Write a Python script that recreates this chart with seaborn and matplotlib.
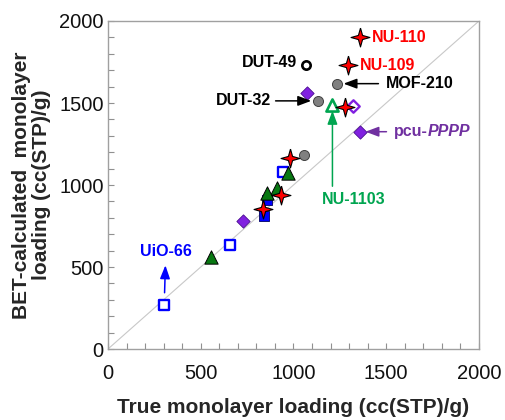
import numpy as np
import pandas as pd
import matplotlib
matplotlib.use("Agg")
import matplotlib.pyplot as plt
import seaborn as sns

# ---------------- data ----------------
star_x = [1358, 1295, 1278, 980, 934, 836]
star_y = [1900, 1730, 1478, 1162, 940, 852]

grey_x = [1236, 1133, 1057]
grey_y = [1618, 1513, 1181]

dut49_x = [1066]
dut49_y = [1730]

purple_x = [1074, 1358, 729]
purple_y = [1562, 1325, 781]

purple_open_x = [1319]
purple_open_y = [1483]

green_x = [968, 909, 857, 555]
green_y = [1073, 982, 954, 559]

green_open_x = [1210]
green_open_y = [1488]

blue_open_x = [946, 658, 303]
blue_open_y = [1077, 637, 267]

blue_x = [858, 843]
blue_y = [908, 811]

ticks = [0, 500, 1000, 1500, 2000]

# ---------------- style ----------------
sns.set_style("ticks")
plt.rcParams['font.family'] = ['Liberation Sans', 'DejaVu Sans']

fig = plt.figure(figsize=(5.06, 4.2), dpi=100)
ax = fig.add_axes([0.2134, 0.169, 0.7332, 0.781])

# diagonal y = x
sns.lineplot(x=[0, 2000], y=[0, 2000], color='#C8C8C8', lw=0.8, ax=ax, zorder=1)

# 4-pointed star marker
r_in = 0.31
angs = np.deg2rad(np.arange(0, 360, 45) + 90)
star_verts = [(np.cos(a) * (1 if i % 2 == 0 else r_in), np.sin(a) * (1 if i % 2 == 0 else r_in))
              for i, a in enumerate(angs)]
star_verts.append(star_verts[0])


def sc(xs, ys, **kw):
    df = pd.DataFrame({"x": xs, "y": ys})
    sns.scatterplot(data=df, x="x", y="y", ax=ax, legend=False, **kw)


BLUE = '#0000FF'
PURPLE = '#8020E0'
GREEN = '#087812'
GREEN_T = '#00A550'

sc(blue_open_x, blue_open_y, marker='s', s=50, color='white', edgecolor=BLUE, linewidth=1.7, zorder=3)
sc(blue_x, blue_y, marker='s', s=54, color=BLUE, edgecolor='#000060', linewidth=0.6, zorder=3)
sc(grey_x, grey_y, marker='o', s=52, color='#808080', edgecolor='#404040', linewidth=0.7, zorder=3)
sc(dut49_x, dut49_y, marker='o', s=36, color='white', edgecolor='black', linewidth=1.9, zorder=3)
sc(purple_x, purple_y, marker='D', s=46, color=PURPLE, edgecolor='#4A0E90', linewidth=0.6, zorder=3)
sc(purple_open_x, purple_open_y, marker='D', s=40, color='white', edgecolor=PURPLE, linewidth=1.7, zorder=3)
sc(green_x, green_y, marker='^', s=92, color=GREEN, edgecolor='black', linewidth=0.7, zorder=4)
sc(green_open_x, green_open_y, marker='^', s=76, color='white', edgecolor=GREEN_T, linewidth=1.9, zorder=4)
sc(star_x, star_y, marker=star_verts, s=185, color='#FF0000', edgecolor='black', linewidth=0.8, zorder=5)

# ---------------- annotations ----------------
afs = 11.5


def arrow(color):
    return dict(arrowstyle='-|>,head_length=0.8,head_width=0.3', color=color, lw=1.1,
                mutation_scale=10)


ax.annotate('NU-110', xy=(star_x[0], star_y[0]), xytext=(8.5, 0), textcoords='offset points',
            ha='left', va='center', color='#FF0000', fontsize=afs, fontweight='bold')
ax.annotate('NU-109', xy=(star_x[1], star_y[1]), xytext=(8.5, 0), textcoords='offset points',
            ha='left', va='center', color='#FF0000', fontsize=afs, fontweight='bold')
ax.annotate('DUT-49', xy=(dut49_x[0], dut49_y[0]), xytext=(-6.5, 2), textcoords='offset points',
            ha='right', va='center', color='black', fontsize=afs, fontweight='bold')
ax.annotate('MOF-210', xy=(grey_x[0], grey_y[0]), xytext=(35, 0), textcoords='offset points',
            ha='left', va='center', color='black', fontsize=afs, fontweight='bold',
            arrowprops=dict(**arrow('black'), shrinkA=3, shrinkB=4.5))
ax.annotate('DUT-32', xy=(grey_x[1], grey_y[1]), xytext=(-34, 0), textcoords='offset points',
            ha='right', va='center', color='black', fontsize=afs, fontweight='bold',
            arrowprops=dict(**arrow('black'), shrinkA=1, shrinkB=5))
t1 = ax.annotate('pcu-', xy=(purple_x[1], purple_y[1]), xytext=(24.5, 0), textcoords='offset points',
                 ha='left', va='center', color='#7030A0', fontsize=afs, fontweight='bold',
                 arrowprops=dict(**arrow('#7030A0'), shrinkA=3, shrinkB=4))
ax.annotate('PPPP', xy=(1, 0.5), xycoords=t1, ha='left', va='center', color='#7030A0',
            fontsize=afs, fontweight='bold', fontstyle='italic')
ax.annotate('', xy=(green_open_x[0], green_open_y[0]), xytext=(0, -58.5), textcoords='offset points',
            arrowprops=dict(**arrow(GREEN_T), shrinkA=0, shrinkB=4.2))
ax.annotate('NU-1103', xy=(green_open_x[0], green_open_y[0]), xytext=(15, -68), textcoords='offset points',
            ha='center', va='center', color=GREEN_T, fontsize=afs, fontweight='bold')
ax.annotate('UiO-66', xy=(blue_open_x[2], blue_open_y[2]), xytext=(1.2, 39), textcoords='offset points',
            ha='center', va='center', color=BLUE, fontsize=afs, fontweight='bold',
            arrowprops=dict(arrowstyle='<|-,head_length=0.8,head_width=0.3', color=BLUE, lw=1.1,
                            mutation_scale=10, shrinkA=2.5, shrinkB=9))

# ---------------- axes ----------------
ax.set_xlim(0, 2000)
ax.set_ylim(0, 2000)
ax.set_xticks(ticks)
ax.set_yticks(ticks)
ax.set_xticks(np.arange(0, 2001, 100), minor=True)
ax.set_yticks(np.arange(0, 2001, 100), minor=True)
ax.set_xticklabels([str(t) for t in ticks])
ax.set_yticklabels([str(t) for t in ticks])
ax.tick_params(axis='both', which='both', direction='in', length=4.5, width=0.8, color='#909090',
               labelsize=14.5, labelcolor='#111111')
ax.tick_params(axis='x', which='major', pad=10.5)
ax.tick_params(axis='y', which='major', pad=3)
for sp in ax.spines.values():
    sp.set_visible(True)
    sp.set_color('#A0A0A0')
    sp.set_linewidth(1.0)

ax.set_xlabel('True monolayer loading (cc(STP)/g)', fontsize=15, fontweight='bold', labelpad=11)
ax.set_ylabel('BET-calculated  monolayer\nloading (cc(STP)/g)', fontsize=15, fontweight='bold',
              labelpad=6, linespacing=1.05)

fig.savefig('out.png', dpi=100)
